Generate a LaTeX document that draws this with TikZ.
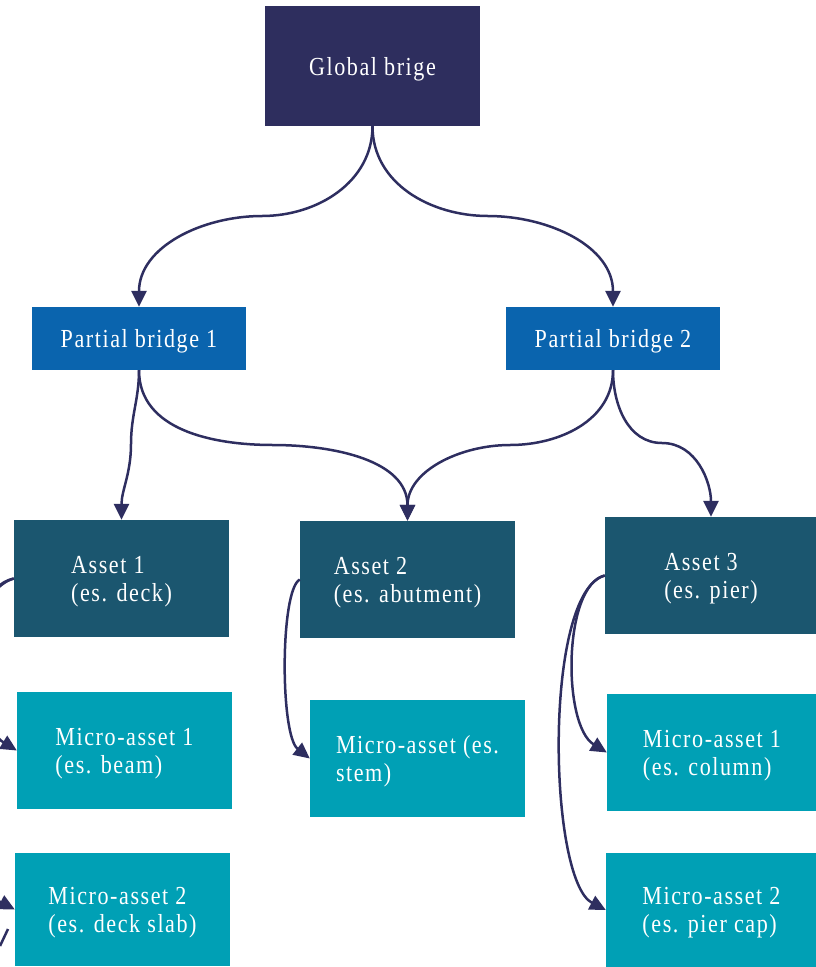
\documentclass[tikz,border=0pt]{standalone}
\usepackage{fontspec}
\setmainfont{Liberation Serif}[LetterSpace=6,FakeStretch=0.85]
\usetikzlibrary{arrows.meta}
\definecolor{cglobal}{RGB}{46,46,94}
\definecolor{cpartial}{RGB}{10,100,174}
\definecolor{casset}{RGB}{27,86,111}
\definecolor{cmicro}{RGB}{0,160,181}
\definecolor{cline}{RGB}{46,46,96}
\tikzset{
  box/.style={fill=#1, draw=none, text=white, align=left, inner sep=0pt,
    text depth=0pt, font=\fontsize{26}{28}\selectfont},
  arr/.style={draw=cline, line width=2.5pt, -{Triangle[length=16pt,width=15pt]}},
  plain/.style={draw=cline, line width=2.5pt}
}
\begin{document}
\begin{tikzpicture}[x=1pt,y=-1pt]
\useasboundingbox (0,0) rectangle (816,967);
\clip (0,0) rectangle (816,967);
% nodes
\node[box=cglobal, minimum width=215pt, minimum height=120pt] (g) at (372.5,66) {Global brige};
\node[box=cpartial, minimum width=214pt, minimum height=63pt] (p1) at (139,338.5) {Partial bridge 1};
\node[box=cpartial, minimum width=214pt, minimum height=63pt] (p2) at (613,338.5) {Partial bridge 2};
\node[box=casset, minimum width=215pt, minimum height=117pt] (a1) at (121.5,578.5) {Asset 1\\(es. deck)};
\node[box=casset, minimum width=215pt, minimum height=117pt] (a2) at (407.5,579.5) {Asset 2\\(es. abutment)};
\node[box=casset, minimum width=212pt, minimum height=117pt] (a3) at (711,575.5) {Asset 3\\(es. pier)};
\node[box=cmicro, minimum width=215pt, minimum height=117pt] (m11) at (124.5,750.5) {Micro-asset 1\\(es. beam)};
\node[box=cmicro, minimum width=215pt, minimum height=113pt] (m12) at (122.5,909.5) {Micro-asset 2\\(es. deck slab)};
\node[box=cmicro, minimum width=215pt, minimum height=117pt] (m2) at (417.5,758.5) {Micro-asset (es.\\stem)};
\node[box=cmicro, minimum width=210pt, minimum height=117pt] (m31) at (712,752.5) {Micro-asset 1\\(es. column)};
\node[box=cmicro, minimum width=211pt, minimum height=114pt] (m32) at (711.5,910) {Micro-asset 2\\(es. pier cap)};
% waypoints
\coordinate (w1) at (262,216);
\coordinate (w2) at (488,216);
\coordinate (w3) at (131,444);
\coordinate (w4) at (273,445);
\coordinate (w5) at (510,445);
\coordinate (w6) at (662,443);
\coordinate (f1) at (8,929);
\coordinate (f2) at (0,946);
% connectors
\draw[arr] (g.south) to[out=-90,in=0] (w1) to[out=180,in=90] (p1.north);
\draw[arr] (g.south) to[out=-90,in=180] (w2) to[out=0,in=90] (p2.north);
\draw[arr] (p1.south) to[out=-90,in=90] (w3) to[out=-90,in=90] (a1.north);
\draw[arr] (p1.south) to[out=-90,in=180] (w4) to[out=0,in=90] (a2.north);
\draw[arr] (p2.south) to[out=-90,in=0] (w5) to[out=180,in=90] (a2.north);
\draw[arr] (p2.south) to[out=-90,in=180] (w6) to[out=0,in=90] (a3.north);
\draw[arr] (a1.west) .. controls (-40,590) and (-30,722) .. (m11.west);
\draw[arr] (a1.west) .. controls (-60,600) and (-50,876) .. (m12.west);
\draw[plain] (f1) -- (f2);
\draw[arr] (a2.west) .. controls (280,590) and (280,735) .. (m2.west);
\draw[arr] (a3.west) .. controls (563,585) and (562,725) .. (m31.west);
\draw[arr] (a3.west) .. controls (543,592) and (548,880) .. (m32.west);
\end{tikzpicture}
\end{document}
